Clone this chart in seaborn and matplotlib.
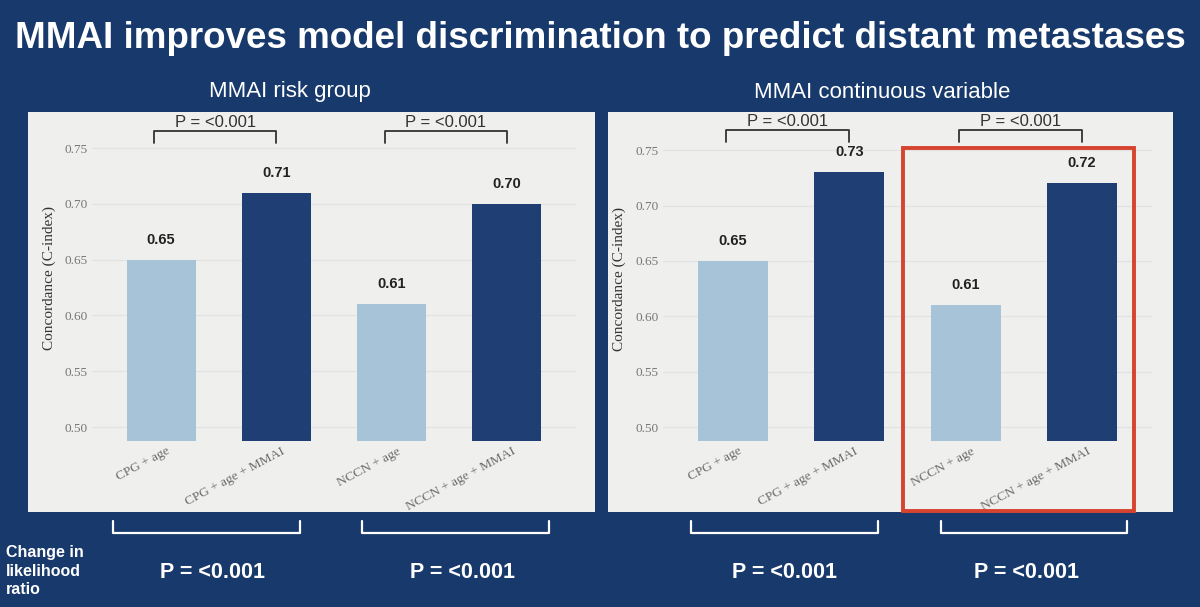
import pandas as pd
import matplotlib.pyplot as plt
import seaborn as sns
from matplotlib.patches import Rectangle
from matplotlib.lines import Line2D
import matplotlib.transforms as mtransforms

# values
models = ["CPG + age", "CPG + age + MMAI", "NCCN + age", "NCCN + age + MMAI"]
risk_group_cindex = [0.65, 0.71, 0.61, 0.70]
continuous_cindex = [0.65, 0.73, 0.61, 0.72]
yticks = [0.50, 0.55, 0.60, 0.65, 0.70, 0.75]
pair_p = ["P = <0.001", "P = <0.001"]
lr_p = ["P = <0.001", "P = <0.001", "P = <0.001", "P = <0.001"]

BG = "#18396b"
PANEL = "#efefee"
LIGHT = "#a7c3d7"
DARK = "#1e3e74"
W, H = 1200, 607


def fx(px):
    return px / W


def fy(py):
    return 1 - py / H


sns.set_theme(style="whitegrid")
plt.rcParams["font.family"] = ["Liberation Sans", "DejaVu Sans"]

fig = plt.figure(figsize=(12, 6.07), dpi=100, facecolor=BG)

fig.text(0.5, fy(38), "MMAI improves model discrimination to predict distant metastases",
         ha="center", va="center", color="white", fontsize=26.5, fontweight="bold")

# panel cards
for x0, x1 in [(28, 595), (608, 1173)]:
    fig.add_artist(Rectangle((fx(x0), fy(512)), fx(x1) - fx(x0), fy(112) - fy(512),
                             transform=fig.transFigure, facecolor=PANEL, edgecolor="none", zorder=0))

fig.text(fx(290), fy(92), "MMAI risk group", ha="center", va="center", color="white", fontsize=16)
fig.text(fx(882), fy(92), "MMAI continuous variable", ha="center", va="center", color="white", fontsize=16)

panels = [
    # values, left px, right px, bottom px, px per unit
    (risk_group_cindex, 92, 576, 441, 1116),
    (continuous_cindex, 663, 1152, 441, 1108),
]
ymin, ymax = 0.4875, 0.78

for vals, left, right, bottom, ppu in panels:
    top = bottom - (ymax - ymin) * ppu
    ax = fig.add_axes([fx(left), fy(bottom), fx(right) - fx(left), fy(top) - fy(bottom)])
    ax.set_facecolor(PANEL)
    df = pd.DataFrame({"model": models, "cindex": vals})
    sns.barplot(data=df, x="model", y="cindex", hue="model",
                palette=[LIGHT, DARK, LIGHT, DARK], width=0.6, legend=False, ax=ax,
                saturation=1, linewidth=0)
    ax.set_xlim(-0.6, 3.6)
    ax.set_ylim(ymin, ymax)
    ax.set_yticks(yticks)
    ax.set_yticklabels([f"{t:.2f}" for t in yticks], family="Liberation Serif", fontsize=9.5, color="#777777")
    ax.grid(axis="y", color="#e2e2e2", linewidth=0.9)
    ax.grid(axis="x", visible=False)
    ax.tick_params(axis="both", length=0, pad=3)
    for s in ax.spines.values():
        s.set_visible(False)
    ax.set_xlabel("")
    ax.set_ylabel("Concordance (C-index)", family="Liberation Serif", fontsize=11, color="#333333")
    ax.yaxis.set_label_coords(-0.075, 0.5)

    offset = mtransforms.ScaledTranslation(5 / 100, 0, fig.dpi_scale_trans)
    ax.set_xticks(range(len(models)))
    ax.set_xticklabels(models, rotation=28, ha="right", va="top", rotation_mode="anchor",
                       family="Liberation Serif", fontsize=9.6, color="#6a6a6a")
    for lab in ax.get_xticklabels():
        lab.set_transform(lab.get_transform() + offset)

    for i, v in enumerate(vals):
        ax.annotate(f"{v:.2f}", xy=(i, v), xytext=(0, 14.5), textcoords="offset points",
                    ha="center", va="center", fontsize=10.5, fontweight="bold", color="#222222")

    # comparison brackets above each pair
    b_top = 0.75 + (148 - 131) / ppu if ppu > 1110 else 0.75 + (151 - 131) / ppu
    b_low = b_top - 12 / ppu
    for k, (a, b) in enumerate([(0, 1), (2, 3)]):
        ax.plot([a - 0.06, a - 0.06, b, b], [b_low, b_top, b_top, b_low],
                color="#333333", linewidth=1.3, clip_on=False)
        ax.text((a - 0.06 + b) / 2, b_top + 9 / ppu, pair_p[k], ha="center", va="center",
                fontsize=12, color="#333333")

# red highlight box
fig.add_artist(Rectangle((fx(903), fy(511)), fx(1134) - fx(903), fy(148) - fy(511),
                         transform=fig.transFigure, facecolor="none", edgecolor="#d6442f",
                         linewidth=2.8, zorder=5))

# likelihood ratio row
fig.text(fx(6), fy(571), "Change in\nlikelihood\nratio", ha="left", va="center",
         color="white", fontsize=11.5, fontweight="bold", linespacing=1.3)
for (x0, x1), xc, p in zip([(113, 300), (362, 549), (691, 878), (941, 1127)],
                           [213, 463, 785, 1027], lr_p):
    fig.add_artist(Line2D([fx(x0), fx(x0), fx(x1), fx(x1)], [fy(521), fy(533), fy(533), fy(521)],
                          transform=fig.transFigure, color="white", linewidth=1.6))
    fig.text(fx(xc), fy(572), p, ha="center", va="center", color="white",
             fontsize=15.5, fontweight="bold")

fig.savefig("out.png", dpi=100, facecolor=BG)
